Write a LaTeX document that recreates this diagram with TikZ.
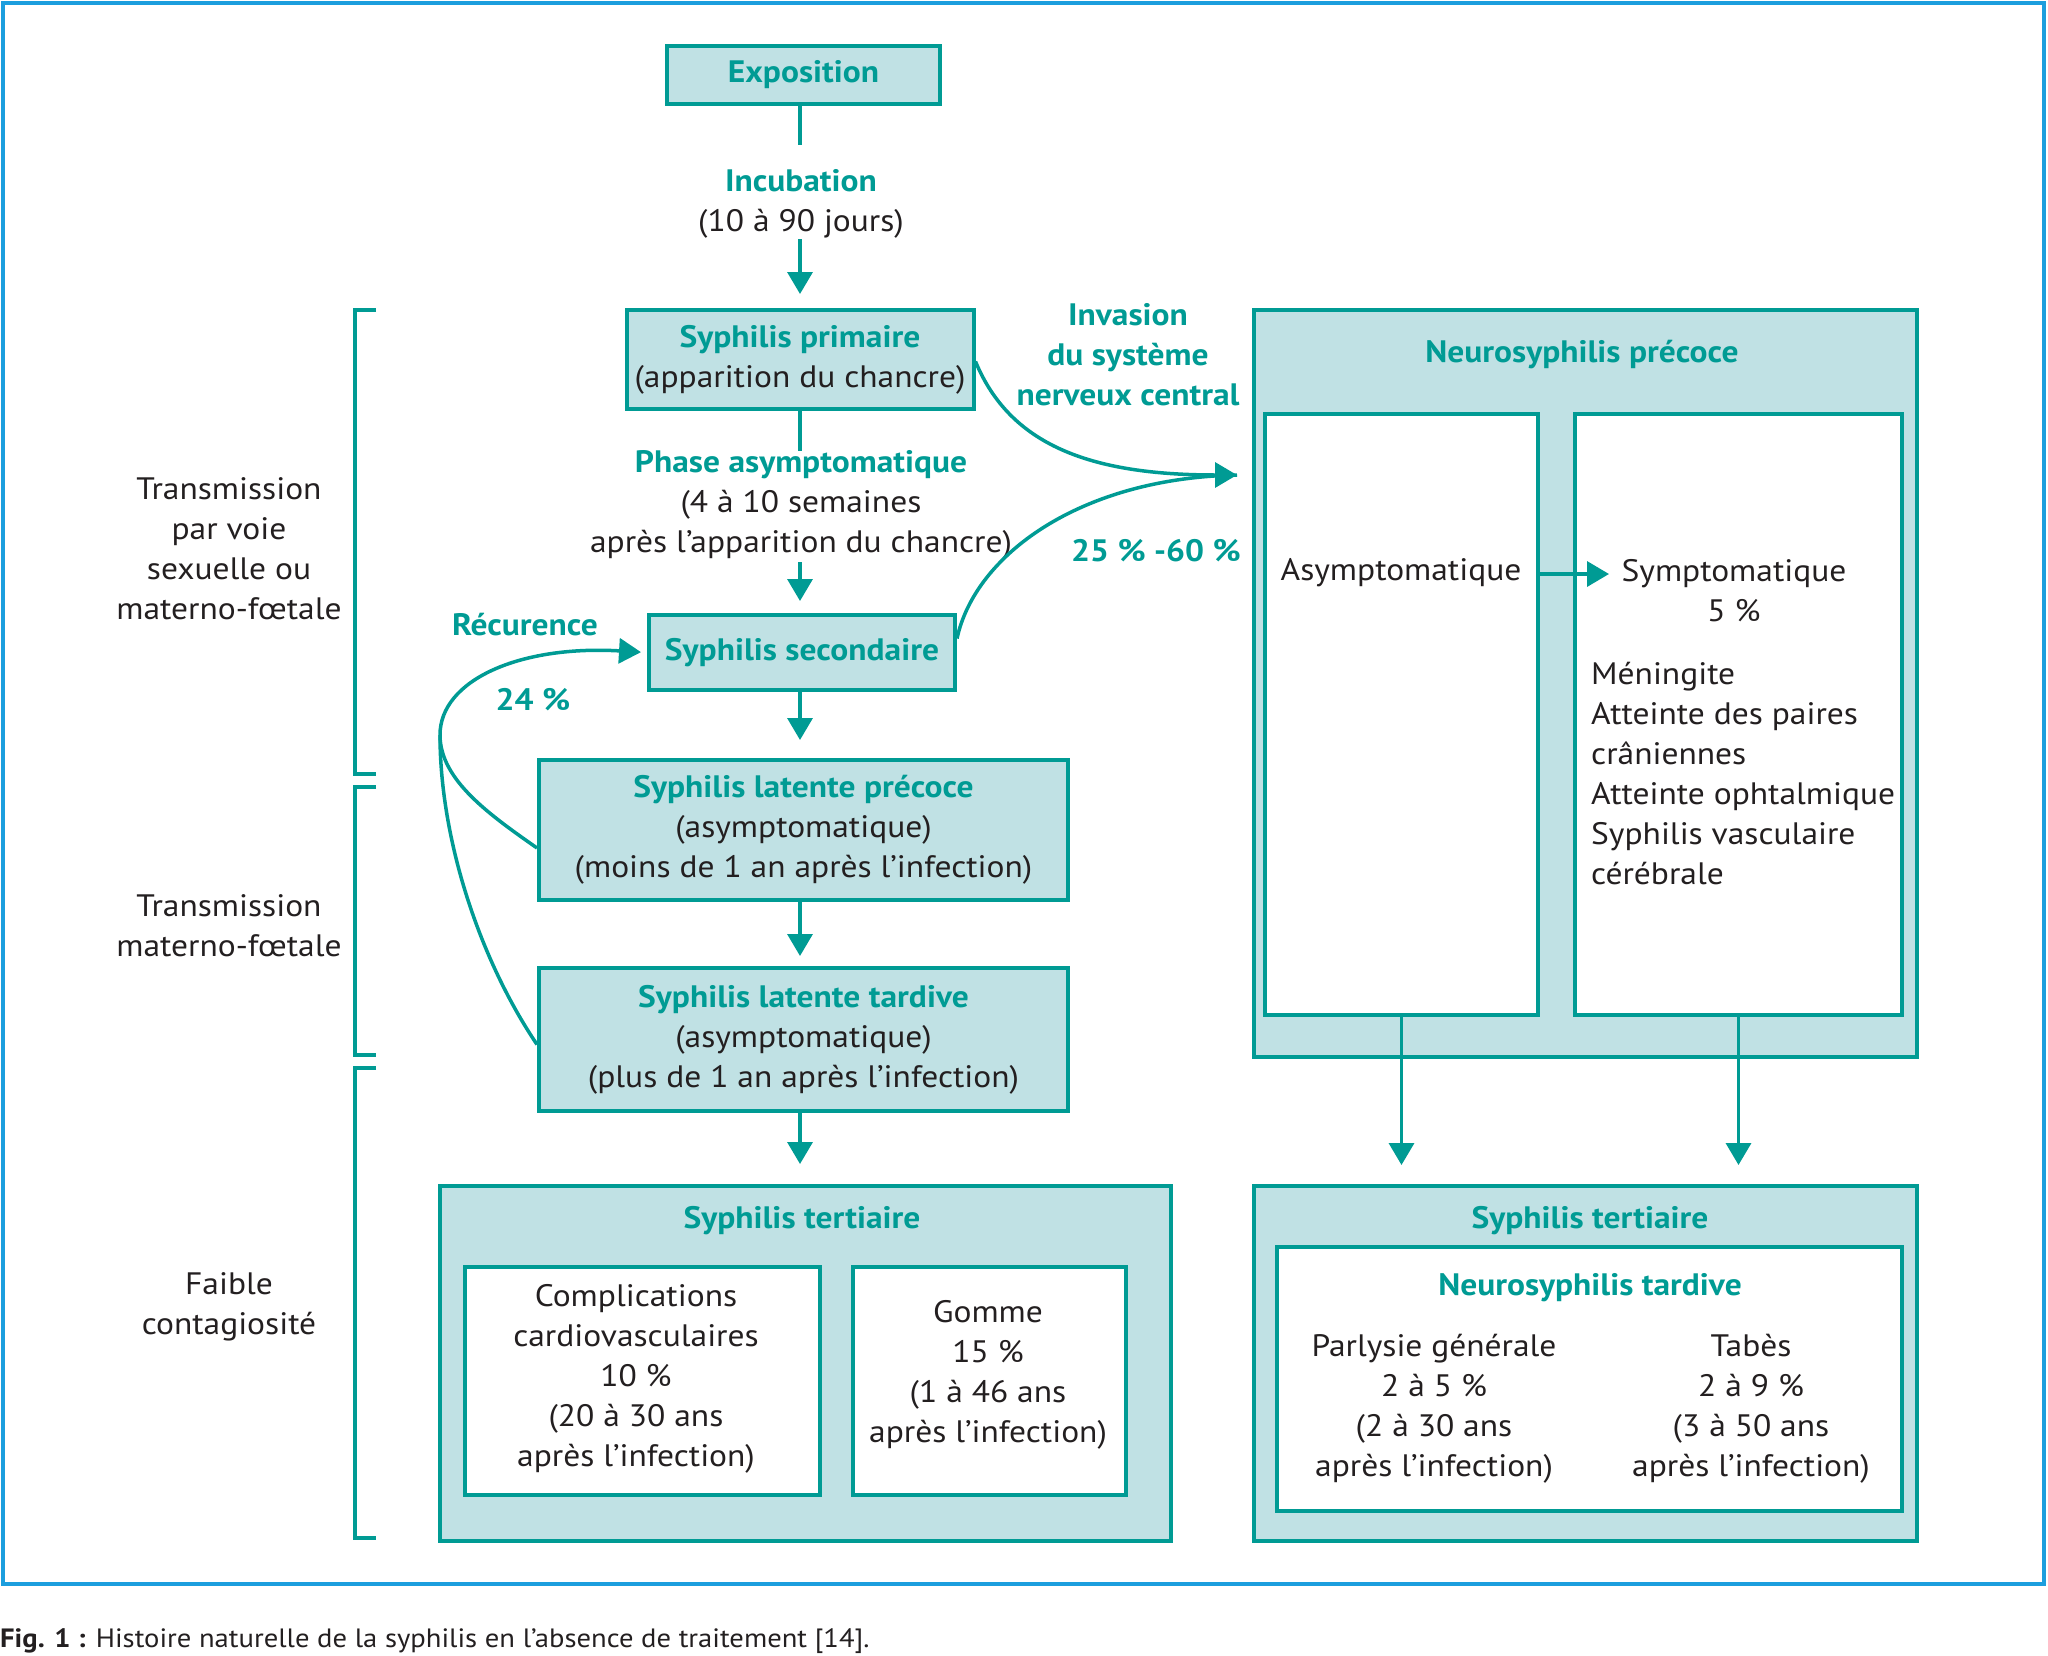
\documentclass[tikz,border=0pt]{standalone}
\usepackage{fontspec}
\setmainfont{PT Sans}[FakeStretch=1.08]
\usetikzlibrary{arrows.meta,calc}
\definecolor{tealc}{RGB}{0,155,148}
\definecolor{fillc}{RGB}{192,225,228}
\definecolor{frameblue}{RGB}{28,158,222}
\definecolor{textc}{RGB}{35,31,32}
\newcommand\mytitle[1]{{\bfseries\color{tealc}#1}}
\begin{document}
\begin{tikzpicture}[x=1pt,y=-1pt,
  every node/.style={font=\fontsize{31}{40}\selectfont, text=textc, inner sep=0pt, align=center},
  box/.style={draw=tealc, line width=4pt, fill=fillc},
  wbox/.style={draw=tealc, line width=4pt, fill=white},
  lbl/.style={align=center},
  conn/.style={draw=tealc, line width=3.5pt},
  arr/.style={conn, -{Triangle[length=22pt,width=25pt]}},
  brk/.style={draw=tealc, line width=4pt}]
\useasboundingbox (0,0) rectangle (2048,1655);
\draw[frameblue, line width=4.5pt] (3,3) rectangle (2044,1584);

% main column
\node[box, minimum width=273pt, minimum height=58pt] (expo) at (803.5,75) {\mytitle{Exposition}};
\node[lbl] (inc) at (801,204) {\mytitle{Incubation}\\(10 à 90 jours)};
\node[box, minimum width=347pt, minimum height=99pt] (prim) at (800,359.5) {\mytitle{Syphilis primaire}\\(apparition du chancre)};
\node[lbl] (phase) at (801,505) {\mytitle{Phase asymptomatique}\\(4 à 10 semaines\\après l’apparition du chancre)};
\node[box, minimum width=306pt, minimum height=75pt] (sec) at (802,652.5) {\mytitle{Syphilis secondaire}};
\node[box, minimum width=529pt, minimum height=140pt] (lp) at (803.5,830) {\mytitle{Syphilis latente précoce}\\(asymptomatique)\\(moins de 1 an après l’infection)};
\node[box, minimum width=529pt, minimum height=143pt] (lt) at (803.5,1039.5) {\mytitle{Syphilis latente tardive}\\(asymptomatique)\\(plus de 1 an après l’infection)};

% tertiary left
\node[box, minimum width=731pt, minimum height=355pt] (t1) at (805.5,1363.5) {};
\node (t1title) at (802,1221) {\mytitle{Syphilis tertiaire}};
\node[wbox, minimum width=355pt, minimum height=228pt] (comp) at (642.5,1381) {};
\node (comptext) at (636,1379) {Complications\\cardiovasculaires\\10~\%\\(20 à 30 ans\\après l’infection)};
\node[wbox, minimum width=273pt, minimum height=228pt] (gom) at (989.5,1381) {};
\node (gomtext) at (988,1375) {Gomme\\15~\%\\(1 à 46 ans\\après l’infection)};

% neurosyphilis precoce
\node[box, minimum width=663pt, minimum height=747pt] (neuro) at (1585.5,683.5) {};
\node (neurotitle) at (1582,355) {\mytitle{Neurosyphilis précoce}};
\node[wbox, minimum width=273pt, minimum height=601pt] (asy) at (1401.5,714.5) {};
\node[wbox, minimum width=327pt, minimum height=601pt] (sym) at (1738.5,714.5) {};
\node (asytext) at (1401,573) {Asymptomatique};
\node (symtext) at (1734,591) {Symptomatique\\5~\%};
\node[align=left, anchor=west] (symlist) at (1591,774) {Méningite\\Atteinte des paires\\crâniennes\\Atteinte ophtalmique\\Syphilis vasculaire\\cérébrale};

% tertiary right
\node[box, minimum width=663pt, minimum height=355pt] (t2) at (1585.5,1363.5) {};
\node (t2title) at (1590,1221) {\mytitle{Syphilis tertiaire}};
\node[wbox, minimum width=625pt, minimum height=264pt] (tard) at (1589.5,1379) {};
\node (tardtitle) at (1590,1288) {\mytitle{Neurosyphilis tardive}};
\node (parl) at (1434,1409) {Parlysie générale\\2 à 5~\%\\(2 à 30 ans\\après l’infection)};
\node (tabes) at (1751,1409) {Tabès\\2 à 9~\%\\(3 à 50 ans\\après l’infection)};

% invasion labels
\node (inv) at (1128,355) {\mytitle{Invasion}\\\mytitle{du système}\\\mytitle{nerveux central}};
\node (pct) at (1156,551) {\mytitle{25~\% -60~\%}};
\node (recur) at (525,625) {\mytitle{Récurence}};
\node (p24) at (533,700) {\mytitle{24~\%}};

% left labels
\node (g1) at (229,549) {Transmission\\par voie\\sexuelle ou\\materno-fœtale};
\node (g2) at (229,926) {Transmission\\materno-fœtale};
\node (g3) at (229,1307) {Faible\\contagiosité};

% brackets
\draw[brk] (376,310) -- (355,310) -- (355,774) -- (376,774);
\draw[brk] (376,787) -- (355,787) -- (355,1055) -- (376,1055);
\draw[brk] (376,1068) -- (355,1068) -- (355,1538) -- (376,1538);

% coordinates for free ends
\coordinate (incTop) at (800,145);
\coordinate (incBot) at (800,239);
\coordinate (phTop) at (800,451);
\coordinate (phBot) at (800,562);
\coordinate (invtip) at (1237,475);
\coordinate (rj) at (440,735);
\coordinate (symin) at (1609,574);

% connectors
\draw[conn] (incTop |- expo.south) -- (incTop);
\draw[arr, shorten >=14pt] (incBot) -- (incBot |- prim.north);
\draw[conn] (prim.south) -- (phTop);
\draw[arr, shorten >=12pt] (phBot) -- (phBot |- sec.north);
\draw[arr, shorten >=18pt] (phBot |- sec.south) -- (phBot |- lp.north);
\draw[arr, shorten >=10pt] (phBot |- lp.south) -- (phBot |- lt.north);
\draw[arr, shorten >=20pt] (phBot |- lt.south) -- (phBot |- t1.north);
\draw[arr] (asy.east |- symin) -- (symin);
\draw[arr, shorten >=19pt] (asy.south) -- (asy.south |- t2.north);
\draw[arr, shorten >=19pt] (sym.south) -- (sym.south |- t2.north);

% invasion curves
\draw[arr] ([yshift=-2pt]prim.east) .. controls (1010,445) and (1090,475) .. (invtip);
\draw[conn] ([yshift=14pt]sec.east) .. controls (975,555) and (1080,478) .. (invtip);

% recurrence
\draw[arr, shorten >=6pt] ([yshift=-18pt]lp.west) .. controls (490,815) and (440,780) .. (rj) .. controls (440,680) and (520,645) .. (sec.west);
\draw[conn] ([yshift=-5pt]lt.west) .. controls (480,960) and (440,840) .. (rj);

% caption
\node[anchor=west, font=\fontsize{26.5}{32}\selectfont, text=textc] (cap) at (0,1641) {\textbf{Fig. 1 :} Histoire naturelle de la syphilis en l’absence de traitement [14].};
\end{tikzpicture}
\end{document}
